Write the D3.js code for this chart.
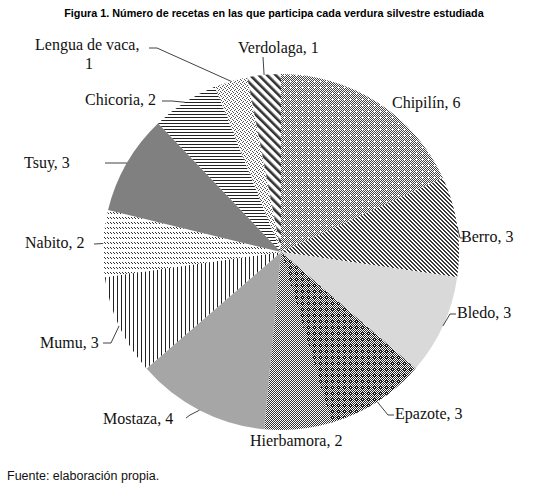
<!DOCTYPE html>
<html>
<head>
<meta charset="utf-8">
<script src="https://cdn.jsdelivr.net/npm/d3@7"></script>
<style>
  body { margin: 0; background: #fff; }
  .title { font-family: "Liberation Sans Narrow", "Arial Narrow", sans-serif; font-weight: bold; font-size: 10.8px; }
  .lbl { font-family: "Liberation Serif", "Times New Roman", serif; font-size: 16px; fill: #111; }
  .foot { font-family: "Liberation Sans", Arial, sans-serif; font-size: 12.5px; fill: #111; }
</style>
</head>
<body>
<div id="chart"></div>
<script>
// data, clockwise from 12 o'clock
const verduras = ["Chipilín", "Berro", "Bledo", "Epazote", "Hierbamora", "Mostaza",
                  "Mumu", "Nabito", "Tsuy", "Chicoria", "Lengua de vaca", "Verdolaga"];
const recetas = [6, 3, 3, 3, 2, 4, 3, 2, 3, 2, 1, 1];

const titulo = "Figura 1. Número de recetas en las que participa cada verdura silvestre estudiada";
const fuente = "Fuente: elaboración propia.";

// label placement (text anchor, leader elbow and end)
const labelPos = {
  "Chipilín":       { x: 392, y: 108, noLeader: true },
  "Berro":          { x: 461, y: 242, elbow: [460, 238], end: [466, 238] },
  "Bledo":          { x: 457, y: 318, elbow: [450, 314], end: [456, 314] },
  "Epazote":        { x: 395, y: 419, elbow: [388, 415], end: [394, 415] },
  "Hierbamora":     { x: 250, y: 446, noLeader: true },
  "Mostaza":        { x: 103, y: 424, elbow: [190, 415], end: [186, 418] },
  "Mumu":           { x: 40,  y: 348, elbow: [111, 343], end: [103, 343] },
  "Nabito":         { x: 25,  y: 248, elbow: [94, 244], end: [94, 244] },
  "Tsuy":           { x: 24,  y: 168, elbow: [105, 163], end: [105, 163] },
  "Chicoria":       { x: 85,  y: 105, elbow: [172, 101], end: [162, 101] },
  "Lengua de vaca": { x: 35,  y: 50, second: [85, 69], elbow: [157, 48], end: [149, 48] },
  "Verdolaga":      { x: 238, y: 53, elbow: [263, 57], end: [263, 57] }
};

const W = 537, H = 492;
const cx = 281, cy = 252, radius = 178;

const svg = d3.select("#chart").append("svg")
  .attr("width", W).attr("height", H);

const defs = svg.append("defs");

// pixel pattern helper
function pixPattern(id, w, h, bg, fg, isDark) {
  const p = defs.append("pattern")
    .attr("id", id).attr("patternUnits", "userSpaceOnUse")
    .attr("width", w).attr("height", h);
  p.append("rect").attr("width", w).attr("height", h).attr("fill", bg);
  for (let y = 0; y < h; y++) {
    for (let x = 0; x < w; x++) {
      if (isDark(x, y)) {
        p.append("rect").attr("x", x).attr("y", y).attr("width", 1).attr("height", 1)
          .attr("fill", fg).attr("shape-rendering", "crispEdges");
      }
    }
  }
}

// Chipilín: fine checker with little open rings
pixPattern("p-chipilin", 6, 6, "#fff", "#444", (x, y) => {
  if (x === 3 && y === 3) return false;
  return (x + y) % 2 === 0;
});
// Berro: dense diagonal "\"
pixPattern("p-berro", 4, 4, "#fff", "#3a3a3a", (x, y) => x === y || x === (y + 1) % 4);
// Epazote: checker with small dark rings around a white centre
pixPattern("p-epazote", 6, 6, "#fff", "#222", (x, y) => {
  if (x === 3 && y === 3) return false;
  if ((x === 3 && (y === 2 || y === 4)) || (y === 3 && (x === 2 || x === 4))) return true;
  return (x + y) % 2 === 0;
});
// Hierbamora: plain 1px checker
pixPattern("p-hierbamora", 2, 2, "#fff", "#333", (x, y) => (x + y) % 2 === 0);
// Mumu: vertical lines
pixPattern("p-mumu", 4, 1, "#fff", "#222", (x, y) => x === 0);
// Nabito: rows of small "\" dashes
pixPattern("p-nabito", 3, 5, "#fff", "#333", (x, y) => (x === 0 && y === 0) || (x === 1 && y === 1));
// Chicoria: horizontal lines
pixPattern("p-chicoria", 1, 3, "#fff", "#222", (x, y) => y === 0);
// Lengua de vaca: sparse confetti
pixPattern("p-lengua", 4, 4, "#fff", "#555", (x, y) =>
  (x === 0 && y === 0) || (x === 2 && y === 1) || (x === 1 && y === 2) || (x === 3 && y === 3));
// Verdolaga: wide diagonal stripes "\"
const pv = defs.append("pattern").attr("id", "p-verdolaga")
  .attr("patternUnits", "userSpaceOnUse").attr("width", 6).attr("height", 6)
  .attr("patternTransform", "rotate(-45)");
pv.append("rect").attr("width", 6).attr("height", 6).attr("fill", "#fff");
pv.append("rect").attr("width", 2.6).attr("height", 6).attr("fill", "#333");

const fills = {
  "Chipilín": "url(#p-chipilin)",
  "Berro": "url(#p-berro)",
  "Bledo": "#d9d9d9",
  "Epazote": "url(#p-epazote)",
  "Hierbamora": "url(#p-hierbamora)",
  "Mostaza": "#a6a6a6",
  "Mumu": "url(#p-mumu)",
  "Nabito": "url(#p-nabito)",
  "Tsuy": "#808080",
  "Chicoria": "url(#p-chicoria)",
  "Lengua de vaca": "url(#p-lengua)",
  "Verdolaga": "url(#p-verdolaga)"
};

const data = verduras.map((v, i) => ({ name: v, value: recetas[i] }));

const pie = d3.pie().value(d => d.value).sort(null);
const arc = d3.arc().innerRadius(0).outerRadius(radius);
const arcs = pie(data);

const g = svg.append("g").attr("transform", `translate(${cx},${cy})`);

g.selectAll("path.slice")
  .data(arcs)
  .join("path")
  .attr("class", "slice")
  .attr("d", arc)
  .attr("fill", d => fills[d.data.name])
  .attr("stroke", "none");

// leader lines: from label elbow to arc edge at mid angle
arcs.forEach(d => {
  const lp = labelPos[d.data.name];
  if (lp.noLeader) return;
  const a = (d.startAngle + d.endAngle) / 2;
  const px = cx + Math.sin(a) * radius;
  const py = cy - Math.cos(a) * radius;
  svg.append("path")
    .attr("d", d3.line()([lp.end, lp.elbow, [px, py]]))
    .attr("fill", "none")
    .attr("stroke", "#111")
    .attr("stroke-width", 0.8);
});

// labels
arcs.forEach(d => {
  const lp = labelPos[d.data.name];
  if (lp.second) {
    svg.append("text").attr("class", "lbl").attr("x", lp.x).attr("y", lp.y)
      .text(d.data.name + ",");
    svg.append("text").attr("class", "lbl").attr("x", lp.second[0]).attr("y", lp.second[1])
      .text(d.data.value);
  } else {
    svg.append("text").attr("class", "lbl").attr("x", lp.x).attr("y", lp.y)
      .text(d.data.name + ", " + d.data.value);
  }
});

svg.append("text").attr("class", "title")
  .attr("x", 274).attr("y", 17).attr("text-anchor", "middle")
  .text(titulo);

svg.append("text").attr("class", "foot")
  .attr("x", 7).attr("y", 480)
  .text(fuente);
</script>
</body>
</html>
